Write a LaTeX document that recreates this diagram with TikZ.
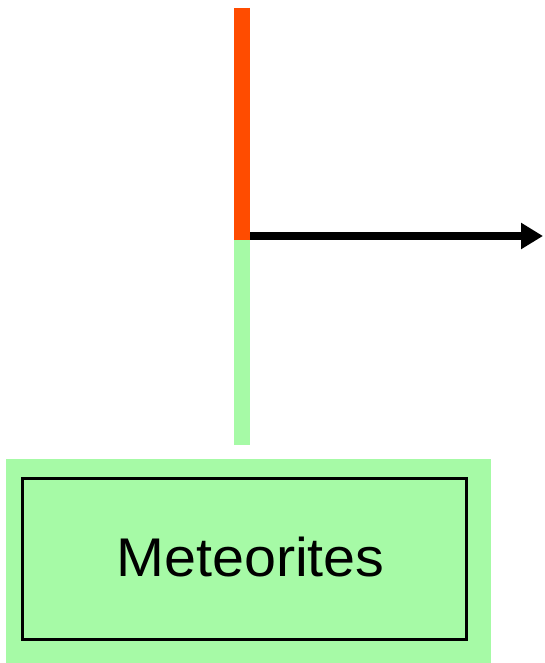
\documentclass[tikz,border=0pt]{standalone}
\usepackage{fontspec}
\setmainfont{Liberation Sans}
\usetikzlibrary{arrows.meta}
\definecolor{mgreen}{RGB}{166,250,166}
\definecolor{morange}{RGB}{255,76,0}
\tikzset{
  px/.style={x=1pt,y=-1pt},
  bar/.style={line width=16pt},
  conn/.style={line width=8pt,-{Triangle[length=22pt,width=25pt]}},
  box/.style={draw=black,line width=3pt,inner sep=0pt},
  label/.style={font=\fontsize{54.5}{60}\selectfont,inner sep=0pt,anchor=base},
}
\begin{document}
\begin{tikzpicture}[px]
\useasboundingbox (0,0) rectangle (544,663);
\coordinate (top) at (242,8);
\coordinate (mid) at (242,240);
\coordinate (bot) at (242,445);
\coordinate (start) at (250,236);
\coordinate (tip) at (543,236);
\fill[mgreen] (6,459) rectangle (491,665);
\draw[bar,morange] (top) -- (mid);
\draw[bar,mgreen] (mid) -- (bot);
\draw[conn] (start) -- (tip);
\draw[box] (22,478) rectangle (466,639);
\node[label] (met) at (250.5,576) {\scalebox{1.055}[1]{Meteorites}};
\end{tikzpicture}
\end{document}
